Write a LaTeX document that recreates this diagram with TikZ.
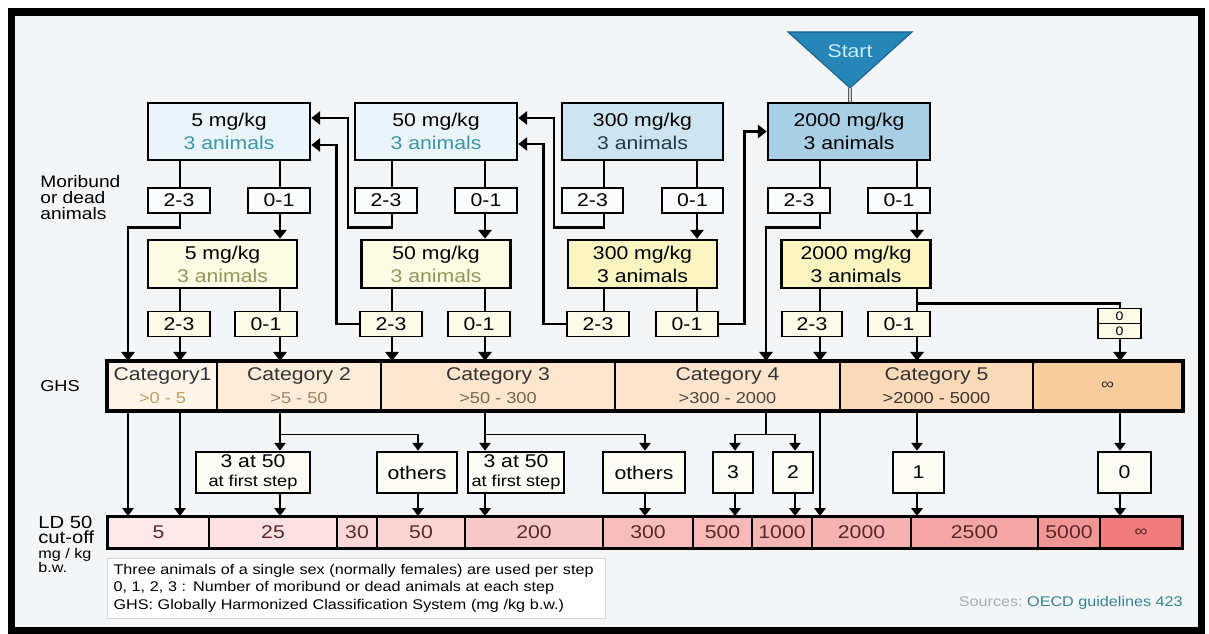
\documentclass[tikz,border=0pt]{standalone}
\usepackage{fontspec}
\setmainfont{Liberation Sans}[FakeStretch=1.15]
\usepackage{tikz}
\usetikzlibrary{arrows.meta,calc,positioning,shapes.multipart}
\usepackage{xcolor}
\definecolor{paper}{RGB}{244,245,247}
\definecolor{startblue}{RGB}{38,134,183}
\definecolor{startedge}{RGB}{24,98,140}
\definecolor{startfont}{RGB}{200,238,248}
\definecolor{blueA}{RGB}{234,244,251}
\definecolor{blueB}{RGB}{206,228,241}
\definecolor{blueC}{RGB}{168,207,229}
\definecolor{tealfont}{RGB}{60,150,165}
\definecolor{darkfont}{RGB}{35,60,70}
\definecolor{yelA}{RGB}{252,251,228}
\definecolor{yelB}{RGB}{250,244,192}
\definecolor{olivefont}{RGB}{150,148,90}
\definecolor{tagfill}{RGB}{251,252,253}
\definecolor{tagyel}{RGB}{252,251,232}
\definecolor{catorange}{RGB}{249,204,158}
\definecolor{catfont}{RGB}{50,50,50}
\definecolor{rngA}{RGB}{190,160,100}
\definecolor{rngB}{RGB}{160,130,100}
\definecolor{rngC}{RGB}{120,100,80}
\definecolor{rngD}{RGB}{80,70,60}
\definecolor{rngE}{RGB}{60,50,45}
\definecolor{ldred}{RGB}{238,112,112}
\definecolor{ldfont}{RGB}{90,40,40}
\definecolor{cellfill}{RGB}{252,251,246}
\definecolor{srcgray}{RGB}{170,175,180}
\definecolor{srcteal}{RGB}{50,130,150}
\newcommand{\fmain}{\fontsize{10.5}{13}\selectfont}
\newcommand{\fsub}{\fontsize{9}{11}\selectfont}
\newcommand{\fnote}{\fontsize{8}{9.9}\selectfont}
\tikzset{
  wh/.style 2 args={minimum width=#1*0.2mm, minimum height=#2*0.2mm},
  dosebox/.style={draw, line width=1.5pt, align=center, inner sep=0pt, font=\fmain},
  tagbox/.style={draw, line width=0.6pt, inner sep=0pt, font=\fmain},
  catbox/.style={draw, line width=1.4pt, align=center, inner sep=0pt, font=\fmain,
    text=catfont, minimum height=48*0.2mm},
  ldcell/.style={draw, line width=1.1pt, inner sep=0pt, font=\fmain, text=ldfont,
    minimum height=31*0.2mm},
  stepbox/.style={draw, line width=1.5pt, align=center, inner sep=0pt, font=\fmain,
    fill=cellfill},
  link/.style={line width=1.6pt},
  arr/.style={link, -{Triangle[width=7.5pt,length=5pt]}},
  lowlink/.style={line width=0.8pt},
  lowarr/.style={lowlink, -{Triangle[width=6.5pt,length=4.5pt]}}
}

\begin{document}
\begin{tikzpicture}[x=0.02cm,y=-0.02cm]
\useasboundingbox (0,0) rectangle (1209,634);
\fill[white] (0,0) rectangle (1209,634);
\fill[paper] (11.5,12) rectangle (1201.5,631);
\draw[line width=4pt] (11.5,12) rectangle (1201.5,631);

% start funnel
\filldraw[fill=startblue, draw=startedge, line width=0.6pt] (788,32) -- (912,32) -- (850,88) -- cycle;
\coordinate (apex) at (850,88);
\node[text=startfont, font=\fmain] (start) at (850,51) {Start};

% dose steps
\foreach \n/\x/\w/\col/\fc/\dose in {t5/229/162/blueA/tealfont/5, t50/436/162/blueA/tealfont/50,
    t300/642.5/161/blueB/darkfont/300, t2000/849/162/blueC/black/2000}
  \node[dosebox, fill=\col, wh={\w}{57}] (\n) at (\x,131.5) {\dose~mg/kg\\\textcolor{\fc}{3 animals}};
\foreach \n/\x/\col/\fc/\dose in {y5/222.5/yelA/olivefont/5, y50/436/yelA/olivefont/50,
    y300/642.5/yelB/black/300, y2000/856/yelB/black/2000}
  \node[dosebox, fill=\col, wh={149}{48}] (\n) at (\x,264) {\dose~mg/kg\\\textcolor{\fc}{3 animals}};

\draw[gray!70!black, double=gray!35, double distance=1.2pt, line width=0.5pt] (apex) -- (apex |- t2000.north);

% outcome tags
\foreach \n/\x/\y/\w/\col/\lab in {a5/179/200.5/62/tagfill/2-3, b5/279/200.5/62/tagfill/0-1,
    a50/386/200.5/62/tagfill/2-3, b50/486/200.5/62/tagfill/0-1,
    a300/592.5/200.5/61/tagfill/2-3, b300/692.5/200.5/61/tagfill/0-1,
    a2000/799/200.5/62/tagfill/2-3, b2000/899/200.5/62/tagfill/0-1,
    c5/179/324/62/tagyel/2-3, d5/266/324/62/tagyel/0-1,
    c50/391/324/62/tagyel/2-3, d50/479/324/62/tagyel/0-1,
    c300/598/324/62/tagyel/2-3, d300/687/324/62/tagyel/0-1,
    c2000/812/324/60/tagyel/2-3, d2000/899/324/62/tagyel/0-1}
  \node[tagbox, fill=\col, wh={\w}{25}] (\n) at (\x,\y) {\lab};
\node[rectangle split, rectangle split parts=2, draw, line width=0.6pt, fill=tagyel,
  inner xsep=1pt, inner ysep=1.6pt, minimum width=43*0.2mm, font=\fontsize{7}{7}\selectfont]
  (zz) at (1119.5,323.5) {0\nodepart{two}0};

% GHS categories
\foreach \n/\a/\b/\p/\lab/\rng/\fc in {cat1/108/217/22/Category1/{>0 - 5}/rngA,
    cat2/217/381/38/Category 2/{>5 - 50}/rngB, cat3/381/615/50/Category 3/{>50 - 300}/rngC,
    cat4/615/840/52/Category 4/{>300 - 2000}/rngD, cat5/840/1033/72/Category 5/{>2000 - 5000}/rngE}
  \node[catbox, fill=catorange!\p, minimum width={(\b-\a)*0.2mm}] (\n) at ({(\a+\b)/2},386)
    {\lab\\{\fsub\color{\fc}\rng}};
\node[catbox, fill=catorange, minimum width=149*0.2mm] (cat6) at (1107.5,386) {\fsub ∞};
\draw[line width=1.6pt] (cat1.north west) rectangle (cat6.south east);

% classification steps
\node[stepbox, wh={114}{41}] (r1) at (253,472.5) {3 at 50\\[-2pt]{\fsub at first step}};
\node[stepbox, wh={80}{41}] (r2) at (417,472.5) {others};
\node[stepbox, wh={96}{41}] (r3) at (516,472.5) {3 at 50\\[-2pt]{\fsub at first step}};
\node[stepbox, wh={82}{41}] (r4) at (644,472.5) {others};
\foreach \n/\x/\w/\lab in {r5/733/40/3, r6/793/40/2, r7/918.5/51/1, r8/1124.5/53/0}
  \node[stepbox, wh={\w}{41}] (\n) at (\x,472.5) {\lab};

% LD50 cut-off
\foreach \n/\a/\b/\p/\lab in {l1/108/209/15/5, l2/209/337/21/25, l3/337/377/28/30, l4/377/465/31/50,
    l5/465/603/38/200, l6/603/693/46/300, l7/693/752/49/500, l8/752/812/52/1000,
    l9/812/911/54/2000, l10/911/1038/62/2500, l11/1038/1100/74/5000, l12/1100/1182/92/{\fsub ∞}}
  \node[ldcell, fill=ldred!\p, minimum width={(\b-\a)*0.2mm}] (\n) at ({(\a+\b)/2},532.5) {\lab};
\draw[line width=1.6pt] (l1.north west) rectangle (l12.south east);

% lanes
\foreach \n/\x in {g1/128, p5/180, q5/280, p50/392, q50/485, p300/604, q300/697, p2000/820,
    q2000/917, k4/418, k6/645, k7/766, k8/735, k9/795, k12/1120}
  \coordinate (\n) at (\x,0);

% upper connectors
\foreach \u/\v/\l in {t5/a5/p5, t5/b5/q5, t50/a50/p50, t50/b50/q50, t300/a300/p300, t300/b300/q300,
    t2000/a2000/p2000, t2000/b2000/q2000, y5/c5/p5, y5/d5/q5, y50/c50/p50, y50/d50/q50,
    y300/c300/p300, y300/d300/q300, y2000/c2000/p2000, y2000/d2000/q2000}
  \draw[link] (\u.south -| \l) -- (\v.north -| \l);
\foreach \u/\v/\l in {b5/y5/q5, b50/y50/q50, b300/y300/q300, b2000/y2000/q2000, c5/cat1/p5,
    d5/cat2/q5, c50/cat3/p50, d50/cat3/q50, c2000/cat4/p2000, d2000/cat5/q2000}
  \draw[arr] (\u.south -| \l) -- (\v.north -| \l);
\draw[arr] (a5.south -| p5) -- ++(0,14) -| (cat1.north -| g1);
\draw[arr] (a50.south -| p50) -- ++(0,14) -- ++(-44,0) |- ($(t5.east)+(0,-13.5)$);
\draw[arr] (c50.west) -- ++(-23,0) |- ($(t5.east)+(0,13.5)$);
\draw[arr] (a300.south -| p300) -- ++(0,14) -- ++(-50,0) |- ($(t50.east)+(0,-13.5)$);
\draw[arr] (c300.west) -- ++(-23,0) |- ($(t50.east)+(0,12.5)$);
\draw[arr] (d300.east) -- ++(26,0) |- (t2000.west);
\draw[arr] (a2000.south -| p2000) -- ++(0,14) -| (cat4.north -| k7);
\draw[link] (y2000.south -| q2000) -- ++(0,14) -| (zz.north -| k12);
\draw[arr] (zz.south -| k12) -- (cat6.north -| k12);

% lower connectors
\draw[lowarr] (cat1.south -| g1) -- (l1.north -| g1);
\draw[lowarr] (cat1.south -| p5) -- (l1.north -| p5);
\draw[lowarr] (cat2.south -| q5) -- (r1.north -| q5);
\draw[lowarr] (cat2.south -| q5) -- ++(0,23) -| (r2.north -| k4);
\draw[lowarr] (cat3.south -| q50) -- (r3.north -| q50);
\draw[lowarr] (cat3.south -| q50) -- ++(0,23) -| (r4.north -| k6);
\draw[lowlink] (cat4.south -| k7) -- ++(0,23) coordinate (m4);
\draw[lowarr] (m4) -| (r5.north -| k8);
\draw[lowarr] (m4) -| (r6.north -| k9);
\draw[lowarr] (cat4.south -| p2000) -- (l9.north -| p2000);
\draw[lowarr] (cat5.south -| q2000) -- (r7.north -| q2000);
\draw[lowarr] (cat6.south -| k12) -- (r8.north -| k12);
\foreach \u/\v/\l in {r1/l2/q5, r2/l4/k4, r3/l5/q50, r4/l6/k6, r5/l7/k8, r6/l8/k9, r7/l10/q2000, r8/l12/k12}
  \draw[lowarr] (\u.south -| \l) -- (\v.north -| \l);

% side labels and notes
\node[anchor=north west, align=left, inner sep=0pt, font=\fontsize{9.5}{9.1}\selectfont]
  (moribund) at (40,175) {Moribund\\or dead\\animals};
\node[anchor=west, inner sep=0pt, font=\fontsize{9}{10}\selectfont] (ghs) at (40,386) {GHS};
\node[anchor=north west, align=left, inner sep=0pt, font=\fontsize{10}{8.6}\selectfont]
  (ld50) at (38,516) {LD 50\\cut-off\\{\fnote mg / kg}\\[-0.6pt]{\fnote b.w.}};
\node[draw=gray!30, fill=white, line width=0.6pt, anchor=north west, text width=97.2mm,
  inner xsep=1.2mm, minimum height=57*0.2mm, align=left, font=\fnote] (legend) at (107,558)
  {Three animals of a single sex (normally females) are used per step\\
   0, 1, 2, 3 : Number of moribund or dead animals at each step\\
   GHS: Globally Harmonized Classification System (mg /kg b.w.)};
\node[anchor=east, inner sep=0pt, font=\fnote] (src) at (1183,603)
  {\textcolor{srcgray}{Sources:}\ \textcolor{srcteal}{OECD guidelines 423}};
\end{tikzpicture}
\end{document}
